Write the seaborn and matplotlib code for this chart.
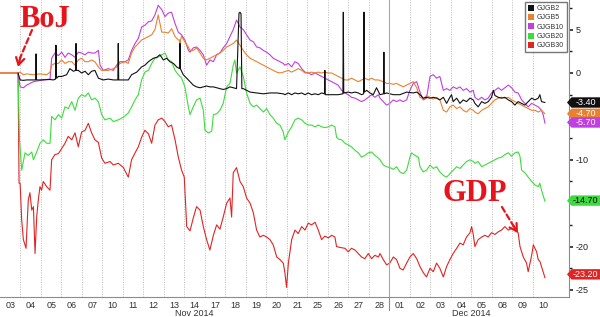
import numpy as np
import pandas as pd
import matplotlib
matplotlib.use("Agg")
import matplotlib.pyplot as plt
from matplotlib.patches import Polygon, Rectangle
import matplotlib.transforms as mtransforms
import seaborn as sns

# ---------------- data (bp change since 31 Oct 2014) ----------------
day_labels = ["03", "04", "05", "06", "07", "10", "11", "12", "13", "14", "17", "18", "19",
              "20", "21", "25", "26", "27", "28", "01", "02", "03", "04", "05", "08", "09", "10"]
month_labels = ["Nov 2014", "Dec 2014"]
series_names = ["GJGB2", "GJGB5", "GJGB10", "GJGB20", "GJGB30"]
last_labels = ["-3.40", "-4.70", "-5.70", "-14.70", "-23.20"]

# (trading-day index, value)
gjgb2 = [(0.88, 0), (0.98, -0.8), (1.14, -0.85), (1.30, -0.8), (1.63, -0.8), (1.74, -0.8), (1.76, 2.2),
         (1.78, -0.8), (1.95, -0.8), (2.44, -0.75), (2.60, -0.8), (2.71, -0.7), (2.73, 3.2), (2.76, -0.6),
         (2.85, -0.4), (3.01, -0.4), (3.25, -0.2), (3.41, 0.5), (3.58, 0.2), (3.69, 0.3), (3.71, 3.4),
         (3.73, 0.3), (3.82, 0.3), (3.98, 0.0), (4.15, 0.2), (4.31, -0.2), (4.47, 0.2), (4.63, 0.3),
         (4.80, -0.6), (5.04, -0.8), (5.28, -0.7), (5.53, -0.8), (5.75, -0.8), (5.77, 3.4), (5.79, -0.8),
         (5.93, -0.8), (6.26, -0.8), (6.42, -0.2), (6.67, 0.1), (6.91, 0.7), (7.07, 0.9), (7.24, 1.3),
         (7.48, 1.7), (7.64, 1.8), (7.80, 2.1), (7.97, 1.5), (8.13, 1.7), (8.29, 1.3), (8.46, 1.1),
         (8.62, 0.7), (8.76, 0.5), (8.78, 3.4), (8.80, 0.5), (8.94, -0.2), (9.11, -0.6), (9.27, -1.0),
         (9.43, -1.4), (9.59, -1.6), (9.76, -1.7), (9.92, -1.6), (10.08, -1.5), (10.24, -1.6),
         (10.41, -1.6), (10.57, -1.7), (10.73, -1.8), (10.89, -1.9), (11.06, -1.8), (11.22, -1.6),
         (11.38, -1.7), (11.54, -1.8), (11.66, 6.9), (11.71, 7.0), (11.76, 6.8), (11.80, -1.8),
         (11.87, -1.8), (12.03, -2.0), (12.20, -2.2), (12.52, -2.3), (12.85, -2.4), (13.17, -2.3),
         (13.50, -2.3), (13.82, -2.4), (13.90, -2.5), (14.07, -2.3), (14.23, -2.5), (14.39, -2.3),
         (14.55, -2.4), (14.72, -2.3), (14.88, -2.5), (15.04, -2.3), (15.20, -2.5), (15.37, -2.4),
         (15.53, -2.5), (15.69, -2.3), (15.83, -2.4), (15.85, 0.3), (15.87, -2.5), (16.18, -2.5),
         (16.50, -2.5), (16.73, -2.4), (16.75, 7.0), (16.77, -2.3), (16.99, -2.2), (17.15, -2.3),
         (17.32, -2.2), (17.48, -2.3), (17.64, -2.5), (17.74, -2.4), (17.76, 7.0), (17.78, -2.2),
         (17.89, -2.0), (18.05, -2.3), (18.21, -2.5), (18.37, -1.7), (18.54, -2.5), (18.71, -2.4),
         (18.73, 2.4), (18.75, -2.4), (18.86, -2.3), (19.19, -2.5), (19.51, -2.5), (19.84, -2.2),
         (20.16, -2.3), (20.33, -2.2), (20.49, -2.5), (20.65, -2.9), (20.81, -2.8), (20.98, -2.9),
         (21.14, -2.8), (21.30, -2.9), (21.46, -3.1), (21.63, -2.8), (21.79, -3.5), (21.95, -2.8),
         (22.03, -2.5), (22.11, -3.3), (22.28, -2.9), (22.44, -3.5), (22.60, -3.1), (22.76, -3.3),
         (22.93, -2.9), (23.09, -3.1), (23.17, -3.5), (23.33, -3.9), (23.50, -3.3), (23.66, -3.5),
         (23.82, -3.3), (23.98, -2.8), (24.07, -2.0), (24.15, -2.6), (24.31, -2.8), (24.47, -2.9),
         (24.63, -2.8), (24.80, -3.1), (24.96, -3.3), (25.12, -3.7), (25.28, -3.3), (25.45, -3.5),
         (25.61, -3.7), (25.77, -3.3), (25.94, -2.9), (26.10, -3.1), (26.26, -2.9), (26.34, -2.5),
         (26.42, -3.3), (26.59, -3.4)]

gjgb5 = [(0, 0), (0.88, 0), (0.98, 0.1), (1.14, -0.2), (1.30, -0.1), (1.63, -0.2), (1.95, -0.1),
         (2.28, -0.2), (2.44, 0.1), (2.52, 0.9), (2.68, 1.1), (2.85, 1.1), (3.01, 1.5), (3.17, 1.1),
         (3.33, 1.3), (3.50, 1.3), (3.66, 0.9), (3.82, 1.5), (3.98, 1.7), (4.15, 1.3), (4.31, 1.3),
         (4.47, 1.5), (4.63, 1.3), (4.80, 0.7), (4.96, 0.3), (5.28, 0.3), (5.53, 0.5), (5.69, 0.7),
         (5.85, 1.1), (6.10, 1.3), (6.26, 1.1), (6.42, 2.3), (6.59, 3.0), (6.75, 3.4), (6.91, 3.8),
         (7.07, 4.0), (7.24, 4.2), (7.40, 4.4), (7.56, 5.0), (7.72, 6.7), (7.89, 4.7), (8.05, 4.7),
         (8.21, 4.6), (8.37, 5.1), (8.54, 4.2), (8.70, 3.8), (8.76, 3.8), (8.78, 0.5), (8.80, 3.8),
         (8.86, 4.2), (9.02, 3.6), (9.19, 3.0), (9.27, 2.6), (9.43, 2.6), (9.59, 2.9), (9.76, 2.3),
         (9.92, 1.7), (10.08, 1.5), (10.24, 1.7), (10.41, 1.9), (10.57, 2.1), (10.73, 2.3),
         (10.89, 2.6), (11.06, 3.0), (11.22, 3.2), (11.38, 3.4), (11.54, 3.8), (11.71, 3.2),
         (11.87, 2.6), (12.03, 2.1), (12.20, 1.7), (12.36, 1.5), (12.52, 1.3), (12.68, 1.1),
         (12.85, 0.9), (13.01, 0.7), (13.17, 0.5), (13.33, 0.3), (13.50, 0.1), (13.66, 0.0),
         (13.82, 0.1), (14.07, 0.3), (14.23, 0.1), (14.39, 0.3), (14.55, 0.5), (14.72, 0.3),
         (14.88, 0.0), (15.04, 0.0), (15.20, 0.1), (15.37, 0.0), (15.53, 0.1), (15.69, 0.0),
         (15.85, 0.1), (16.02, 0.0), (16.18, 0.0), (16.34, -0.2), (16.50, -0.4), (16.67, -0.6),
         (16.83, -0.8), (16.99, -0.8), (17.15, -0.6), (17.32, -0.8), (17.48, -1.0), (17.64, -0.8),
         (17.80, -0.6), (17.97, -0.8), (18.13, -0.6), (18.29, -0.8), (18.46, -0.8), (18.70, -1.0),
         (18.86, -1.2), (19.02, -1.2), (19.19, -1.3), (19.35, -1.2), (19.51, -1.4), (19.67, -1.6),
         (19.84, -1.4), (20.00, -1.2), (20.16, -1.0), (20.33, -1.7), (20.49, -2.8), (20.65, -3.0),
         (20.81, -2.6), (20.98, -2.8), (21.14, -3.0), (21.30, -2.8), (21.46, -3.1), (21.63, -4.3),
         (21.79, -4.5), (21.95, -3.9), (22.11, -3.7), (22.28, -4.1), (22.44, -3.9), (22.60, -4.3),
         (22.76, -4.5), (22.93, -4.1), (23.09, -4.3), (23.17, -4.5), (23.33, -4.7), (23.50, -4.3),
         (23.66, -4.1), (23.82, -3.9), (23.98, -3.5), (24.15, -3.1), (24.31, -2.9), (24.47, -2.8),
         (24.63, -2.9), (24.80, -2.8), (24.96, -3.1), (25.12, -3.3), (25.28, -3.5), (25.45, -3.7),
         (25.61, -3.9), (25.77, -4.1), (25.94, -4.3), (26.10, -4.3), (26.26, -4.5), (26.42, -4.3),
         (26.59, -4.7)]

gjgb10 = [(0.88, 0), (0.98, -1.6), (1.14, -1.7), (1.30, -1.4), (1.63, -1.0), (2.11, -0.8), (2.44, -0.7),
          (2.52, 1.7), (2.68, 2.3), (2.85, 2.0), (3.01, 2.4), (3.17, 1.8), (3.33, 2.3), (3.50, 2.1),
          (3.66, 1.8), (3.82, 2.4), (3.98, 2.3), (4.15, 2.1), (4.31, 2.4), (4.47, 2.3), (4.63, 2.3),
          (4.80, 2.6), (4.88, 0.9), (5.04, 0.3), (5.28, 0.5), (5.53, 0.3), (5.69, 0.9), (5.85, 1.3),
          (6.10, 1.3), (6.26, 1.5), (6.42, 2.6), (6.59, 3.4), (6.75, 4.0), (6.91, 5.3), (7.07, 5.5),
          (7.24, 5.9), (7.40, 6.0), (7.56, 6.7), (7.72, 7.8), (7.89, 7.3), (8.05, 6.5), (8.21, 6.9),
          (8.37, 7.0), (8.54, 5.7), (8.70, 4.7), (8.86, 4.4), (9.02, 3.8), (9.19, 2.6), (9.27, 2.4),
          (9.43, 2.9), (9.59, 3.0), (9.76, 2.6), (9.92, 2.1), (10.08, 0.9), (10.24, 1.5), (10.41, 1.3),
          (10.57, 2.1), (10.73, 2.3), (10.89, 2.9), (11.06, 3.4), (11.22, 4.2), (11.38, 5.0),
          (11.54, 6.1), (11.71, 5.3), (11.87, 5.0), (12.03, 4.4), (12.20, 3.8), (12.36, 3.6),
          (12.52, 3.0), (12.68, 2.9), (12.85, 2.6), (13.01, 2.4), (13.17, 2.1), (13.33, 1.7),
          (13.50, 1.5), (13.66, 1.3), (13.82, 1.1), (13.90, 0.9), (14.07, 1.1), (14.23, 0.7),
          (14.39, 1.3), (14.55, 1.1), (14.72, 0.5), (14.88, 0.1), (15.04, 0.0), (15.20, -0.2),
          (15.37, 0.0), (15.53, -0.2), (15.69, -0.4), (15.85, -0.6), (16.02, -0.8), (16.18, -1.0),
          (16.34, -1.2), (16.50, -1.4), (16.67, -2.0), (16.83, -2.3), (16.99, -2.5), (17.15, -2.8),
          (17.32, -2.9), (17.48, -3.1), (17.64, -3.3), (17.80, -3.1), (17.97, -2.8), (18.13, -2.5),
          (18.29, -2.8), (18.46, -2.5), (18.54, -2.9), (18.70, -3.3), (18.86, -3.7), (19.02, -3.5),
          (19.19, -3.1), (19.35, -3.3), (19.51, -3.1), (19.67, -3.3), (19.84, -3.1), (20.00, -2.0),
          (20.16, -1.2), (20.33, -1.0), (20.49, -2.2), (20.65, -3.1), (20.81, -2.9), (20.98, -0.4),
          (21.14, -0.2), (21.30, -0.6), (21.46, -0.4), (21.63, -2.0), (21.79, -1.8), (21.95, -2.0),
          (22.11, -1.6), (22.28, -1.8), (22.44, -1.6), (22.60, -2.0), (22.76, -1.8), (22.93, -2.2),
          (23.09, -2.0), (23.17, -2.8), (23.33, -3.1), (23.50, -2.8), (23.66, -3.1), (23.82, -2.9),
          (23.98, -2.3), (24.15, -2.0), (24.31, -1.7), (24.47, -2.0), (24.63, -1.7), (24.80, -1.4),
          (24.96, -1.7), (25.12, -2.2), (25.28, -2.3), (25.45, -3.1), (25.61, -3.5), (25.77, -3.9),
          (25.94, -3.5), (26.10, -3.7), (26.26, -3.9), (26.42, -4.3), (26.50, -4.8), (26.59, -5.8)]

gjgb20 = [(0.88, 0), (0.95, -7.7), (1.06, -11.2), (1.22, -9.2), (1.38, -9.5), (1.55, -9.1), (1.63, -10.0),
          (1.79, -9.1), (1.95, -8.1), (2.11, -7.7), (2.28, -8.1), (2.44, -8.1), (2.52, -5.0), (2.68, -5.4),
          (2.85, -4.8), (3.01, -5.2), (3.17, -3.9), (3.33, -4.1), (3.50, -3.3), (3.66, -4.3), (3.82, -2.9),
          (3.98, -2.5), (4.15, -2.7), (4.31, -2.3), (4.47, -3.1), (4.63, -2.9), (4.80, -3.3), (4.96, -4.8),
          (5.12, -5.4), (5.37, -5.2), (5.53, -5.6), (5.77, -5.4), (6.02, -5.1), (6.26, -4.6), (6.42, -3.9),
          (6.59, -3.1), (6.75, -2.5), (6.91, -0.8), (7.07, 0.1), (7.24, 0.3), (7.40, 1.1), (7.56, 1.7),
          (7.72, 1.8), (7.89, 2.1), (8.05, 2.3), (8.21, 1.5), (8.37, 1.3), (8.54, 0.3), (8.70, -0.2),
          (8.86, -0.6), (9.02, -1.6), (9.19, -3.9), (9.27, -4.8), (9.43, -3.9), (9.59, -3.1), (9.76, -2.9),
          (9.92, -4.3), (10.00, -6.6), (10.16, -6.9), (10.33, -6.7), (10.41, -4.8), (10.57, -4.7),
          (10.73, -4.3), (10.89, -3.5), (11.06, -1.6), (11.22, -1.2), (11.38, 0.9), (11.46, 1.5),
          (11.54, 0.0), (11.71, 0.7), (11.87, -0.4), (12.03, -2.3), (12.20, -3.5), (12.36, -3.9),
          (12.52, -3.7), (12.68, -4.1), (12.85, -4.5), (13.01, -4.1), (13.17, -4.8), (13.33, -5.2),
          (13.50, -5.8), (13.66, -6.0), (13.82, -6.8), (13.90, -7.7), (14.07, -6.8), (14.23, -6.2),
          (14.39, -5.4), (14.55, -5.2), (14.72, -5.4), (14.88, -5.8), (15.04, -6.0), (15.20, -6.0),
          (15.37, -6.2), (15.53, -6.0), (15.69, -6.2), (15.85, -6.3), (16.02, -6.2), (16.18, -6.0),
          (16.34, -6.2), (16.42, -7.4), (16.50, -7.6), (16.67, -7.7), (16.83, -8.1), (16.99, -8.3),
          (17.15, -8.5), (17.32, -8.9), (17.48, -9.2), (17.64, -9.7), (17.80, -9.5), (17.97, -9.2),
          (18.13, -9.1), (18.29, -9.5), (18.46, -9.8), (18.54, -10.0), (18.70, -10.6), (18.86, -10.8),
          (19.02, -10.9), (19.19, -11.1), (19.35, -10.8), (19.51, -11.4), (19.67, -11.6), (19.84, -11.2),
          (20.00, -9.7), (20.08, -9.2), (20.24, -9.5), (20.41, -9.7), (20.49, -10.8), (20.65, -11.4),
          (20.81, -11.2), (20.98, -10.6), (21.14, -11.0), (21.30, -10.8), (21.46, -11.4), (21.63, -11.8),
          (21.79, -12.0), (21.95, -11.6), (22.11, -11.2), (22.28, -10.8), (22.44, -11.0), (22.60, -10.6),
          (22.76, -10.2), (22.93, -10.0), (23.09, -10.2), (23.17, -10.4), (23.33, -10.2), (23.50, -10.8),
          (23.66, -10.6), (23.82, -10.4), (23.98, -10.2), (24.15, -10.0), (24.31, -9.8), (24.47, -9.7),
          (24.63, -9.4), (24.80, -9.2), (24.96, -9.6), (25.12, -9.2), (25.28, -9.1), (25.37, -9.6),
          (25.45, -11.2), (25.61, -11.5), (25.77, -12.0), (25.94, -12.5), (26.10, -12.9), (26.26, -13.1),
          (26.34, -12.7), (26.42, -13.5), (26.59, -14.8)]

gjgb30 = [(0, 0), (0.88, 0), (0.93, -12.7), (0.98, -12.7), (1.06, -17.0), (1.14, -19.2), (1.27, -20.2),
          (1.38, -14.6), (1.46, -13.8), (1.55, -15.8), (1.63, -15.4), (1.71, -20.8), (1.79, -16.6),
          (1.87, -14.6), (1.95, -13.1), (2.03, -13.5), (2.11, -12.5), (2.28, -13.1), (2.44, -13.5),
          (2.52, -10.0), (2.68, -9.4), (2.85, -9.3), (3.01, -8.7), (3.17, -8.1), (3.33, -7.3), (3.50, -7.7),
          (3.66, -6.9), (3.82, -8.5), (3.98, -6.8), (4.15, -6.6), (4.31, -5.8), (4.47, -6.9), (4.63, -7.7),
          (4.80, -8.0), (4.96, -9.8), (5.12, -10.4), (5.37, -10.2), (5.53, -10.6), (5.77, -10.4),
          (6.02, -10.9), (6.26, -12.0), (6.42, -10.0), (6.59, -9.2), (6.75, -8.5), (6.91, -7.4),
          (7.07, -6.6), (7.24, -7.0), (7.40, -8.1), (7.56, -6.0), (7.72, -5.4), (7.89, -5.2), (8.05, -5.6),
          (8.21, -6.2), (8.37, -6.0), (8.54, -7.7), (8.70, -9.7), (8.86, -11.2), (8.99, -12.0),
          (9.11, -17.7), (9.27, -18.2), (9.43, -16.7), (9.59, -15.4), (9.76, -15.8), (9.92, -17.7),
          (10.08, -19.2), (10.24, -20.4), (10.41, -18.7), (10.57, -17.5), (10.73, -18.0), (10.89, -16.6),
          (11.06, -15.0), (11.22, -14.4), (11.30, -16.6), (11.38, -11.5), (11.54, -10.9), (11.71, -12.5),
          (11.87, -13.1), (12.03, -14.4), (12.20, -15.0), (12.36, -16.1), (12.52, -18.1), (12.68, -18.9),
          (12.85, -18.7), (13.01, -18.9), (13.17, -19.2), (13.33, -19.8), (13.50, -21.2), (13.66, -21.5),
          (13.82, -21.9), (13.90, -23.0), (13.98, -24.7), (14.07, -21.9), (14.23, -19.2), (14.39, -18.1),
          (14.55, -18.5), (14.72, -17.7), (14.88, -18.1), (15.04, -17.3), (15.20, -17.5), (15.37, -17.2),
          (15.53, -18.1), (15.69, -19.2), (15.85, -18.8), (16.02, -19.0), (16.18, -18.7), (16.34, -18.9),
          (16.42, -20.0), (16.59, -20.1), (16.83, -20.2), (16.99, -20.6), (17.15, -20.2), (17.32, -20.4),
          (17.48, -20.8), (17.64, -21.2), (17.80, -21.4), (17.97, -20.8), (18.13, -21.4), (18.29, -21.0),
          (18.46, -21.2), (18.54, -20.8), (18.70, -21.5), (18.86, -22.1), (19.02, -21.9), (19.19, -21.2),
          (19.35, -21.5), (19.51, -22.5), (19.67, -22.7), (19.84, -21.9), (20.00, -21.2), (20.16, -20.8),
          (20.33, -21.4), (20.49, -22.3), (20.65, -23.0), (20.81, -23.5), (20.98, -22.5), (21.14, -22.9),
          (21.30, -21.9), (21.46, -22.5), (21.63, -23.5), (21.79, -22.3), (21.95, -21.5), (22.11, -20.8),
          (22.28, -20.2), (22.44, -19.6), (22.60, -19.8), (22.76, -18.9), (22.93, -18.4), (23.01, -17.7),
          (23.09, -18.6), (23.17, -20.0), (23.33, -19.2), (23.50, -18.9), (23.66, -18.7), (23.82, -18.9),
          (23.98, -18.4), (24.15, -18.6), (24.31, -18.3), (24.47, -18.1), (24.63, -17.7), (24.80, -18.1),
          (24.96, -17.9), (25.12, -18.1), (25.28, -18.4), (25.37, -20.0), (25.53, -21.2), (25.69, -21.9),
          (25.77, -22.9), (25.94, -21.0), (26.02, -19.8), (26.18, -20.6), (26.26, -21.5), (26.34, -21.7),
          (26.42, -22.3), (26.50, -22.9), (26.59, -23.6)]

all_series = [gjgb2, gjgb5, gjgb10, gjgb20, gjgb30]
colors = ["#111111", "#e8822e", "#c13ee0", "#3ddc3d", "#e02424"]
tag_text_colors = ["white", "white", "white", "black", "white"]

# ---------------- style ----------------
sns.set_style("white")
plt.rcParams["font.family"] = ["Liberation Sans", "DejaVu Sans"]
plt.rcParams["axes.unicode_minus"] = False

fig = plt.figure(figsize=(6.0, 3.17), dpi=100)
ax = fig.add_axes([0.0, 0.0631, 0.9483, 0.9369])

frames = []
for name, pts in zip(series_names, all_series):
    t, v = zip(*pts)
    frames.append(pd.DataFrame({"t": t, "v": v, "series": name}))
df = pd.concat(frames, ignore_index=True)

draw_order = ["GJGB30", "GJGB20", "GJGB10", "GJGB5", "GJGB2"]
cmap = dict(zip(series_names, colors))
for name in draw_order:
    sub = df[df["series"] == name]
    sns.lineplot(data=sub, x="t", y="v", color=cmap[name], lw=0.8,
                 estimator=None, sort=False, ax=ax, legend=False)

ax.set_xlim(0, 27.76)
ax.set_ylim(-25.81, 8.41)
ax.set_xlabel("")
ax.set_ylabel("")

# y axis on the right
ax.yaxis.tick_right()
ax.set_yticks([5, 0, -10, -20, -25])
ax.set_yticklabels(["5", "0", "-10", "-20", "-25"])
ax.set_yticks([7.5, 2.5, -2.5, -5, -7.5, -12.5, -15, -17.5, -22.5], minor=True)
ax.tick_params(axis="y", which="major", length=3, width=1.2, direction="out",
               pad=1.5, labelsize=6.5, colors="#222222")
ax.tick_params(axis="y", which="minor", length=2, width=1.0, direction="out", colors="#222222")

# x axis: days
ax.set_xticks(np.arange(len(day_labels)) + 0.5)
ax.set_xticklabels(day_labels)
ax.set_xticks(np.arange(1, len(day_labels)), minor=True)
ax.tick_params(axis="x", which="both", length=0, pad=3, labelsize=6.5, colors="#333333")
ax.grid(False)
ax.grid(which="minor", axis="x", color="#b8b8b8", ls=(0, (1, 1.5)), lw=0.7)

for s in ["top", "left"]:
    ax.spines[s].set_visible(False)
for s in ["bottom", "right"]:
    ax.spines[s].set_color("#8c8c8c")
    ax.spines[s].set_linewidth(0.8)

xtr = ax.get_xaxis_transform()
ax.axvline(19, color="#a8a8a8", lw=0.8)
ax.plot([19, 19], [0, -0.045], transform=xtr, clip_on=False, color="#8c8c8c", lw=0.8)
ax.text(9.5, -0.055, month_labels[0], transform=xtr, ha="center", va="center",
        fontsize=6.5, color="#333333")
ax.text(23.0, -0.055, month_labels[1], transform=xtr, ha="center", va="center",
        fontsize=6.5, color="#333333")

# legend
handles = [Rectangle((0, 0), 1, 1, facecolor=c, edgecolor="none") for c in colors]
leg = ax.legend(handles, series_names, loc="upper right", bbox_to_anchor=(0.999, 0.998),
                fontsize=5, frameon=True, fancybox=False, edgecolor="#555555",
                handlelength=0.9, handleheight=0.9, handletextpad=0.4,
                borderpad=0.4, labelspacing=0.3, borderaxespad=0.2)
leg.get_frame().set_linewidth(1.0)
for txt in leg.get_texts():
    txt.set_color("#333333")

# last-value tags at right
ytr = mtransforms.blended_transform_factory(ax.transAxes, ax.transData)
for lab, c, tc in zip(last_labels, colors, tag_text_colors):
    y = float(lab)
    h = 0.6
    poly = Polygon([(0.9965, y), (1.0045, y + h), (1.07, y + h), (1.07, y - h), (1.0045, y - h)],
                   closed=True, transform=ytr, facecolor=c, edgecolor="none",
                   clip_on=False, zorder=5)
    ax.add_patch(poly)
    ax.text(1.029, y, lab, transform=ytr, ha="center", va="center", fontsize=6.5,
            color=tc, clip_on=False, zorder=6)

# annotations
red = "#e8141c"
ax.text(2.2, 6.15, "BoJ", fontfamily=["Liberation Serif"], fontweight="bold",
        fontsize=22, color=red, ha="center", va="center")
ax.annotate("", xy=(0.99, 1.79), xytext=(1.56, 4.95),
            arrowprops=dict(arrowstyle="-", ls=(0, (2.5, 1.5)), color=red, lw=1.6,
                            shrinkA=0, shrinkB=0))
ax.annotate("", xy=(0.88, 0.7), xytext=(0.99, 1.79),
            arrowprops=dict(arrowstyle="->,head_length=0.5,head_width=0.3", color=red, lw=1.6,
                            shrinkA=0, shrinkB=0))

ax.text(23.17, -13.9, "GDP", fontfamily=["Liberation Serif"], fontweight="bold",
        fontsize=22, color=red, ha="center", va="center")
ax.annotate("", xy=(25.06, -17.65), xytext=(24.49, -15.44),
            arrowprops=dict(arrowstyle="-", ls=(0, (2.5, 1.5)), color=red, lw=1.6,
                            shrinkA=0, shrinkB=0))
ax.annotate("", xy=(25.27, -18.43), xytext=(25.06, -17.65),
            arrowprops=dict(arrowstyle="->,head_length=0.5,head_width=0.3", color=red, lw=1.6,
                            shrinkA=0, shrinkB=0))

fig.savefig("out.png", dpi=100, facecolor="white")
